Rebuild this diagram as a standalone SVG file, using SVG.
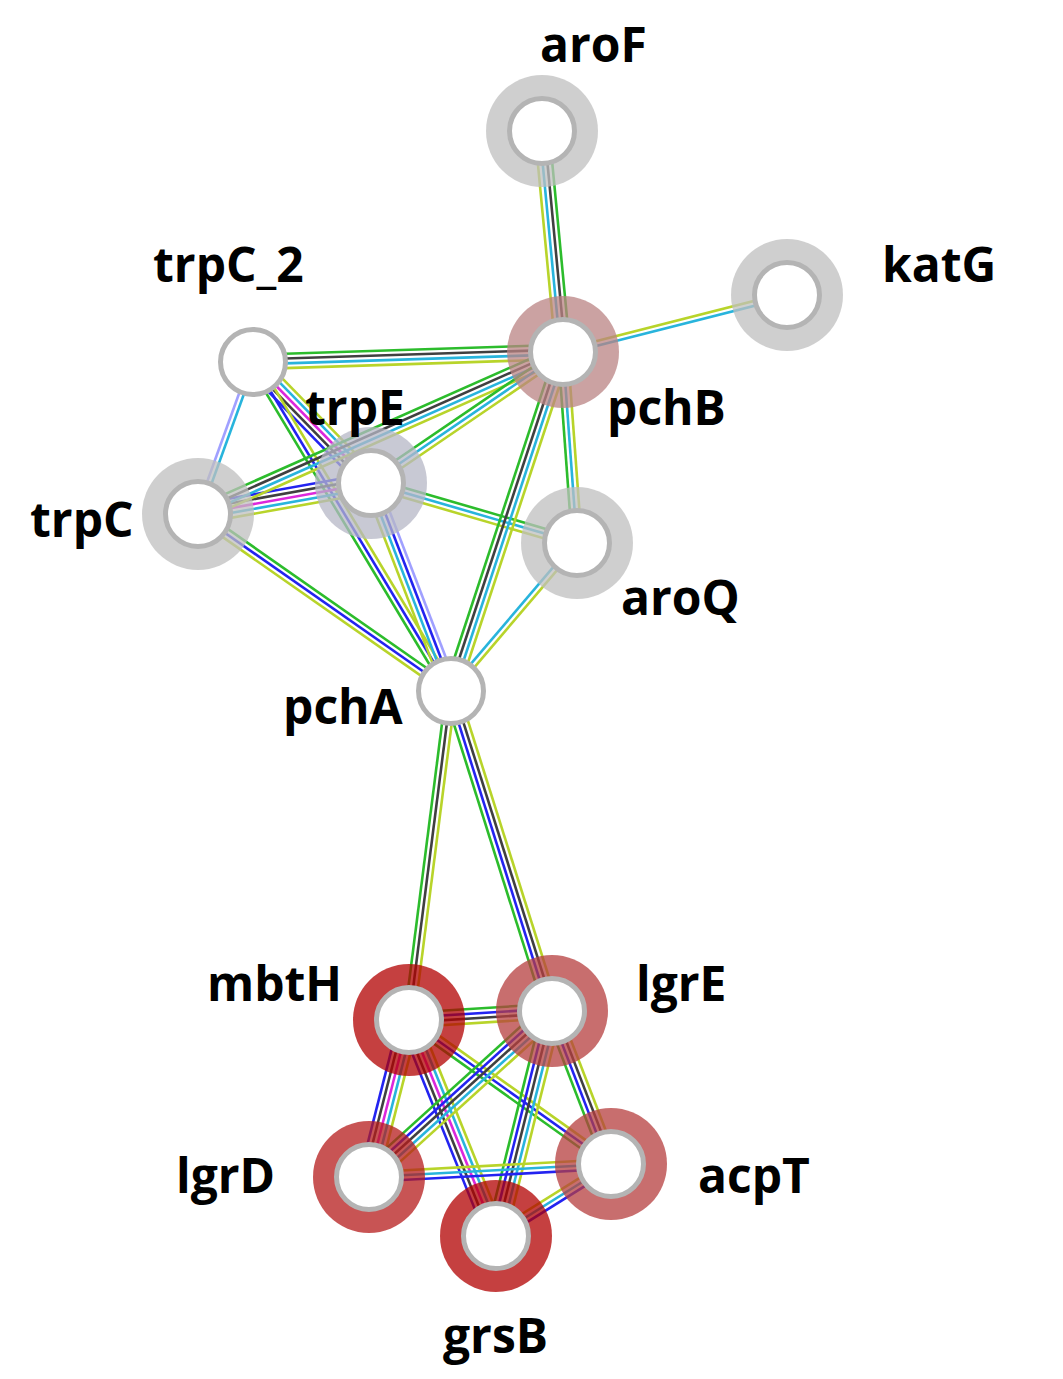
<svg xmlns="http://www.w3.org/2000/svg" width="1063" height="1379" viewBox="0 0 1063 1379">
<style>
line{stroke-width:2.6;fill:none}
.g{stroke:#2cbc2c}.b{stroke:#2323f0}.k{stroke:#404040}.m{stroke:#dc28dc}
.c{stroke:#28b4dc}.y{stroke:#b8d42a}.h{stroke:#a0a0ff}
.halo{opacity:0.75}
.core{fill:#fff;stroke:#b4b4b4;stroke-width:5}
text{font-family:"Open Sans","DejaVu Sans",sans-serif;font-weight:bold;font-size:48px;fill:#000}
</style>
<rect width="1063" height="1379" fill="#fff"/>
<g id="edges">
<g id="e-aroF-pchB" transform="translate(542 131) rotate(84.57)"><line class="g" x1="0" y1="-7.2" x2="222" y2="-7.2"/><line class="k" x1="0" y1="-2.4" x2="222" y2="-2.4"/><line class="c" x1="0" y1="2.4" x2="222" y2="2.4"/><line class="y" x1="0" y1="7.2" x2="222" y2="7.2"/></g>
<g id="e-pchB-katG" transform="translate(563 352) rotate(-14.28)"><line class="y" x1="0" y1="-2.4" x2="231.1" y2="-2.4"/><line class="c" x1="0" y1="2.4" x2="231.1" y2="2.4"/></g>
<g id="e-trpC_2-pchB" transform="translate(253 362) rotate(-1.85)"><line class="g" x1="0" y1="-7.2" x2="310.2" y2="-7.2"/><line class="k" x1="0" y1="-2.4" x2="310.2" y2="-2.4"/><line class="c" x1="0" y1="2.4" x2="310.2" y2="2.4"/><line class="y" x1="0" y1="7.2" x2="310.2" y2="7.2"/></g>
<g id="e-trpC_2-trpC" transform="translate(253 362) rotate(109.89)"><line class="c" x1="0" y1="-2.4" x2="161.6" y2="-2.4"/><line class="h" x1="0" y1="2.4" x2="161.6" y2="2.4"/></g>
<g id="e-trpC_2-trpE" transform="translate(253 362) rotate(45.72)"><line class="y" x1="0" y1="-9.6" x2="169" y2="-9.6"/><line class="c" x1="0" y1="-4.8" x2="169" y2="-4.8"/><line class="m" x1="0" y1="0" x2="169" y2="0"/><line class="k" x1="0" y1="4.8" x2="169" y2="4.8"/><line class="b" x1="0" y1="9.6" x2="169" y2="9.6"/></g>
<g id="e-trpC_2-pchA" transform="translate(253 362) rotate(58.96)"><line class="y" x1="0" y1="-4.8" x2="384" y2="-4.8"/><line class="b" x1="0" y1="0" x2="384" y2="0"/><line class="g" x1="0" y1="4.8" x2="384" y2="4.8"/></g>
<g id="e-trpC-trpE" transform="translate(198 514) rotate(-10.16)"><line class="b" x1="0" y1="-9.6" x2="175.8" y2="-9.6"/><line class="k" x1="0" y1="-4.8" x2="175.8" y2="-4.8"/><line class="m" x1="0" y1="0" x2="175.8" y2="0"/><line class="c" x1="0" y1="4.8" x2="175.8" y2="4.8"/><line class="y" x1="0" y1="9.6" x2="175.8" y2="9.6"/></g>
<g id="e-trpC-pchB" transform="translate(198 514) rotate(-23.93)"><line class="g" x1="0" y1="-7.2" x2="399.3" y2="-7.2"/><line class="k" x1="0" y1="-2.4" x2="399.3" y2="-2.4"/><line class="c" x1="0" y1="2.4" x2="399.3" y2="2.4"/><line class="y" x1="0" y1="7.2" x2="399.3" y2="7.2"/></g>
<g id="e-trpE-pchB" transform="translate(371 483) rotate(-34.30)"><line class="g" x1="0" y1="-4.8" x2="232.4" y2="-4.8"/><line class="c" x1="0" y1="0" x2="232.4" y2="0"/><line class="y" x1="0" y1="4.8" x2="232.4" y2="4.8"/></g>
<g id="e-trpE-aroQ" transform="translate(371 483) rotate(16.24)"><line class="g" x1="0" y1="-4.8" x2="214.6" y2="-4.8"/><line class="c" x1="0" y1="0" x2="214.6" y2="0"/><line class="y" x1="0" y1="4.8" x2="214.6" y2="4.8"/></g>
<g id="e-trpE-pchA" transform="translate(371 483) rotate(68.96)"><line class="h" x1="0" y1="-7.2" x2="222.9" y2="-7.2"/><line class="b" x1="0" y1="-2.4" x2="222.9" y2="-2.4"/><line class="c" x1="0" y1="2.4" x2="222.9" y2="2.4"/><line class="y" x1="0" y1="7.2" x2="222.9" y2="7.2"/></g>
<g id="e-trpC-pchA" transform="translate(198 514) rotate(34.97)"><line class="g" x1="0" y1="-4.8" x2="308.8" y2="-4.8"/><line class="b" x1="0" y1="0" x2="308.8" y2="0"/><line class="y" x1="0" y1="4.8" x2="308.8" y2="4.8"/></g>
<g id="e-pchB-pchA" transform="translate(563 352) rotate(108.28)"><line class="y" x1="0" y1="-7.2" x2="357" y2="-7.2"/><line class="c" x1="0" y1="-2.4" x2="357" y2="-2.4"/><line class="k" x1="0" y1="2.4" x2="357" y2="2.4"/><line class="g" x1="0" y1="7.2" x2="357" y2="7.2"/></g>
<g id="e-pchB-aroQ" transform="translate(563 352) rotate(85.81)"><line class="y" x1="0" y1="-4.8" x2="191.5" y2="-4.8"/><line class="c" x1="0" y1="0" x2="191.5" y2="0"/><line class="g" x1="0" y1="4.8" x2="191.5" y2="4.8"/></g>
<g id="e-aroQ-pchA" transform="translate(577 543) rotate(130.41)"><line class="y" x1="0" y1="-2.4" x2="194.4" y2="-2.4"/><line class="c" x1="0" y1="2.4" x2="194.4" y2="2.4"/></g>
<g id="e-pchA-mbtH" transform="translate(451 691) rotate(97.27)"><line class="y" x1="0" y1="-4.8" x2="331.7" y2="-4.8"/><line class="k" x1="0" y1="0" x2="331.7" y2="0"/><line class="g" x1="0" y1="4.8" x2="331.7" y2="4.8"/></g>
<g id="e-pchA-lgrE" transform="translate(451 691) rotate(72.48)"><line class="y" x1="0" y1="-7.2" x2="335.6" y2="-7.2"/><line class="k" x1="0" y1="-2.4" x2="335.6" y2="-2.4"/><line class="b" x1="0" y1="2.4" x2="335.6" y2="2.4"/><line class="g" x1="0" y1="7.2" x2="335.6" y2="7.2"/></g>
<g id="e-mbtH-lgrE" transform="translate(409 1020) rotate(-3.60)"><line class="g" x1="0" y1="-7.2" x2="143.3" y2="-7.2"/><line class="b" x1="0" y1="-2.4" x2="143.3" y2="-2.4"/><line class="k" x1="0" y1="2.4" x2="143.3" y2="2.4"/><line class="y" x1="0" y1="7.2" x2="143.3" y2="7.2"/></g>
<g id="e-mbtH-lgrD" transform="translate(409 1020) rotate(104.29)"><line class="y" x1="0" y1="-9.6" x2="162" y2="-9.6"/><line class="c" x1="0" y1="-4.8" x2="162" y2="-4.8"/><line class="m" x1="0" y1="0" x2="162" y2="0"/><line class="k" x1="0" y1="4.8" x2="162" y2="4.8"/><line class="b" x1="0" y1="9.6" x2="162" y2="9.6"/></g>
<g id="e-mbtH-grsB" transform="translate(409 1020) rotate(68.06)"><line class="y" x1="0" y1="-9.6" x2="232.9" y2="-9.6"/><line class="c" x1="0" y1="-4.8" x2="232.9" y2="-4.8"/><line class="m" x1="0" y1="0" x2="232.9" y2="0"/><line class="k" x1="0" y1="4.8" x2="232.9" y2="4.8"/><line class="b" x1="0" y1="9.6" x2="232.9" y2="9.6"/></g>
<g id="e-mbtH-acpT" transform="translate(409 1020) rotate(35.49)"><line class="y" x1="0" y1="-4.8" x2="248.1" y2="-4.8"/><line class="b" x1="0" y1="0" x2="248.1" y2="0"/><line class="g" x1="0" y1="4.8" x2="248.1" y2="4.8"/></g>
<g id="e-lgrE-lgrD" transform="translate(552 1011) rotate(137.79)"><line class="y" x1="0" y1="-9.6" x2="247.1" y2="-9.6"/><line class="c" x1="0" y1="-4.8" x2="247.1" y2="-4.8"/><line class="k" x1="0" y1="0" x2="247.1" y2="0"/><line class="b" x1="0" y1="4.8" x2="247.1" y2="4.8"/><line class="g" x1="0" y1="9.6" x2="247.1" y2="9.6"/></g>
<g id="e-lgrE-grsB" transform="translate(552 1011) rotate(103.98)"><line class="y" x1="0" y1="-9.6" x2="231.9" y2="-9.6"/><line class="c" x1="0" y1="-4.8" x2="231.9" y2="-4.8"/><line class="k" x1="0" y1="0" x2="231.9" y2="0"/><line class="b" x1="0" y1="4.8" x2="231.9" y2="4.8"/><line class="g" x1="0" y1="9.6" x2="231.9" y2="9.6"/></g>
<g id="e-lgrE-acpT" transform="translate(552 1011) rotate(68.91)"><line class="y" x1="0" y1="-7.2" x2="164" y2="-7.2"/><line class="k" x1="0" y1="-2.4" x2="164" y2="-2.4"/><line class="b" x1="0" y1="2.4" x2="164" y2="2.4"/><line class="g" x1="0" y1="7.2" x2="164" y2="7.2"/></g>
<g id="e-lgrD-acpT" transform="translate(369 1177) rotate(-3.07)"><line class="y" x1="0" y1="-4.8" x2="242.3" y2="-4.8"/><line class="c" x1="0" y1="0" x2="242.3" y2="0"/><line class="b" x1="0" y1="4.8" x2="242.3" y2="4.8"/></g>
<g id="e-grsB-acpT" transform="translate(496 1236) rotate(-32.05)"><line class="y" x1="0" y1="-4.8" x2="135.7" y2="-4.8"/><line class="c" x1="0" y1="0" x2="135.7" y2="0"/><line class="b" x1="0" y1="4.8" x2="135.7" y2="4.8"/></g>
</g>
<g id="node-aroF"><circle class="halo" cx="542" cy="131" r="56" fill="#bfbfbf"/><circle class="core" cx="542" cy="131" r="32.5"/><text x="540" y="62">aroF</text></g>
<g id="node-katG"><circle class="halo" cx="787" cy="295" r="56" fill="#bfbfbf"/><circle class="core" cx="787" cy="295" r="32.5"/><text x="882" y="282">katG</text></g>
<g id="node-trpC_2"><circle class="core" cx="253" cy="362" r="32.5"/><text x="153" y="282">trpC_2</text></g>
<g id="node-pchB"><circle class="halo" cx="563" cy="352" r="56" fill="#ba8383"/><circle class="core" cx="563" cy="352" r="32.5"/><text x="607" y="425">pchB</text></g>
<g id="node-trpE"><circle class="halo" cx="371" cy="483" r="56" fill="#b6b7c6"/><circle class="core" cx="371" cy="483" r="32.5"/><text x="305" y="425">trpE</text></g>
<g id="node-trpC"><circle class="halo" cx="198" cy="514" r="56" fill="#bfbfbf"/><circle class="core" cx="198" cy="514" r="32.5"/><text x="30" y="537">trpC</text></g>
<g id="node-aroQ"><circle class="halo" cx="577" cy="543" r="56" fill="#bfbfbf"/><circle class="core" cx="577" cy="543" r="32.5"/><text x="621" y="615">aroQ</text></g>
<g id="node-pchA"><circle class="core" cx="451" cy="691" r="32.5"/><text x="283" y="724">pchA</text></g>
<g id="node-mbtH"><circle class="halo" cx="409" cy="1020" r="56" fill="#b20000"/><circle class="core" cx="409" cy="1020" r="32.5"/><text x="207" y="1001">mbtH</text></g>
<g id="node-lgrE"><circle class="halo" cx="552" cy="1011" r="56" fill="#b63e3e"/><circle class="core" cx="552" cy="1011" r="32.5"/><text x="636" y="1001">lgrE</text></g>
<g id="node-lgrD"><circle class="halo" cx="369" cy="1177" r="56" fill="#b61b1b"/><circle class="core" cx="369" cy="1177" r="32.5"/><text x="176" y="1193">lgrD</text></g>
<g id="node-acpT"><circle class="halo" cx="611" cy="1164" r="56" fill="#b63e3e"/><circle class="core" cx="611" cy="1164" r="32.5"/><text x="698" y="1193">acpT</text></g>
<g id="node-grsB"><circle class="halo" cx="496" cy="1236" r="56" fill="#b20000"/><circle class="core" cx="496" cy="1236" r="32.5"/><text x="443" y="1353">grsB</text></g>
</svg>
